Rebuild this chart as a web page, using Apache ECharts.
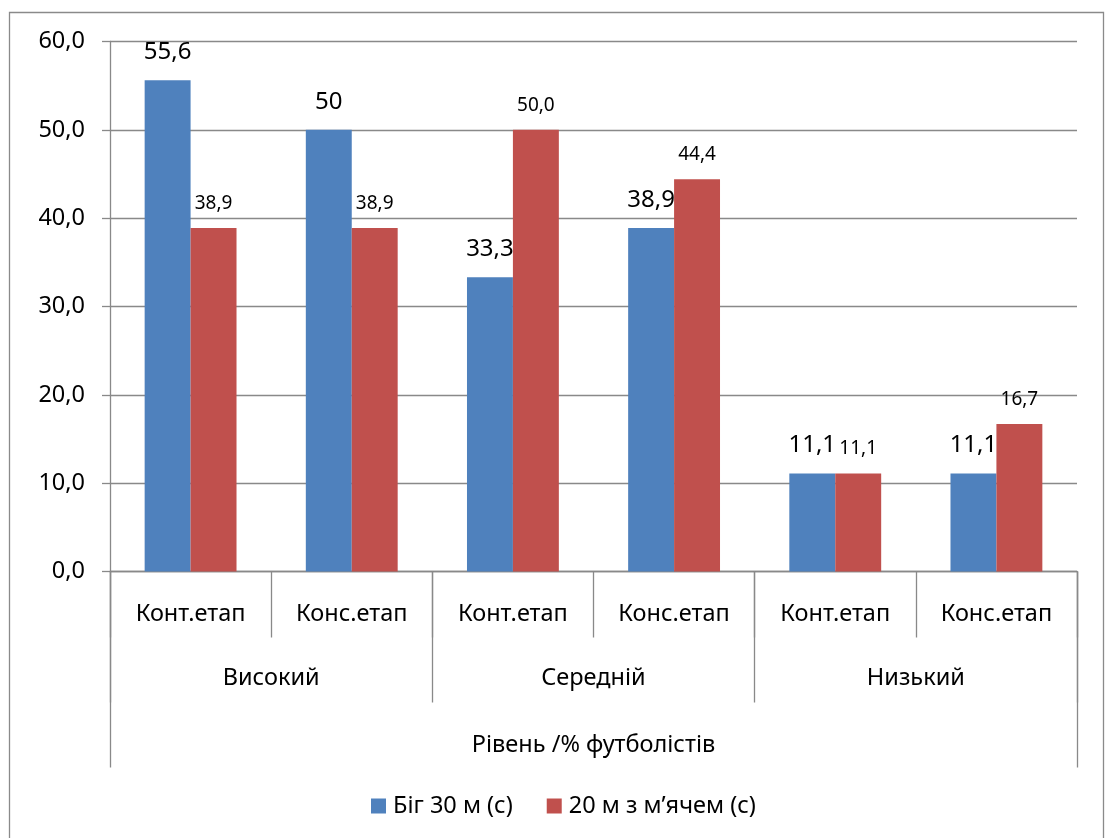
<!DOCTYPE html>
<html>
<head>
<meta charset="utf-8">
<script src="https://cdn.jsdelivr.net/npm/echarts@6/dist/echarts.min.js"></script>
<style>
  html, body { margin: 0; padding: 0; background: #fff; }
  #chart { width: 1108px; height: 838px; }
</style>
</head>
<body>
<div id="chart"></div>
<script>
// Stage labels (first row under the axis)
const stages = ['Конт.етап', 'Конс.етап', 'Конт.етап', 'Конс.етап', 'Конт.етап', 'Конс.етап'];
// Level groups (second row)
const levels = ['Високий', 'Середній', 'Низький'];
// Axis title row (third row)
const axisTitle = ['Рівень /% футболістів'];
// Series
const seriesNames = ['Біг 30 м (с)', '20 м з м’ячем (с)'];
const run30 = [55.6, 50, 33.3, 38.9, 11.1, 11.1];
const ball20 = [38.9, 38.9, 50.0, 44.4, 11.1, 16.7];
// Value axis ticks
const yMin = 0, yMax = 60, yStep = 10;

const FONT = '"Noto Sans", "Open Sans", sans-serif';
const AXIS_GRAY = '#898989';
const BLUE = '#4F81BD';
const RED = '#C0504D';
const TEXT_SIZE = 23.5;

const comma = s => String(s).replace('.', ',');

const chart = echarts.init(document.getElementById('chart'), null, { renderer: 'canvas' });

function catAxis(data, tickLen, labelMargin, showLine) {
  return {
    type: 'category',
    data: data,
    position: 'bottom',
    boundaryGap: true,
    axisLine: { show: showLine, lineStyle: { color: AXIS_GRAY, width: 1.3 } },
    axisTick: { show: true, interval: 0, length: tickLen, lineStyle: { color: AXIS_GRAY, width: 1.3 } },
    axisLabel: {
      interval: 0, margin: labelMargin, verticalAlign: 'middle',
      color: '#000', fontFamily: FONT, fontSize: TEXT_SIZE
    },
    splitLine: { show: false }
  };
}

chart.setOption({
  animation: false,
  backgroundColor: '#fff',
  graphic: [{
    type: 'rect',
    shape: { x: 9.5, y: 12.5, width: 1094, height: 840 },
    style: { fill: 'none', stroke: '#8a8a8a', lineWidth: 1.3 },
    silent: true, z: -10
  }],
  grid: { left: 110, right: 31, top: 41.5, bottom: 266.5, containLabel: false },
  legend: {
    data: seriesNames,
    top: 794,
    left: 371,
    padding: 0,
    icon: 'rect',
    itemWidth: 15,
    itemHeight: 15,
    itemGap: 34,
    textStyle: { color: '#000', fontFamily: FONT, fontSize: TEXT_SIZE, padding: [0, 0, 0, 2] }
  },
  xAxis: [
    catAxis(stages, 66, 42.5, true),
    catAxis(levels, 131, 106.5, false),
    catAxis(axisTitle, 196, 173.5, false)
  ],
  yAxis: {
    type: 'value',
    min: yMin, max: yMax, interval: yStep,
    axisLine: { show: true, lineStyle: { color: AXIS_GRAY, width: 1.3 } },
    axisTick: { show: true, length: 8, lineStyle: { color: AXIS_GRAY, width: 1.3 } },
    axisLabel: {
      margin: 25, color: '#000', fontFamily: FONT, fontSize: TEXT_SIZE,
      formatter: v => v.toFixed(1).replace('.', ',')
    },
    splitLine: { show: true, lineStyle: { color: AXIS_GRAY, width: 1.3 } }
  },
  series: [
    {
      name: seriesNames[0],
      type: 'bar',
      xAxisIndex: 0,
      data: run30,
      barGap: '0%',
      barCategoryGap: '43%',
      itemStyle: { color: BLUE },
      label: {
        show: true, position: 'top', distance: 16,
        color: '#000', fontFamily: FONT, fontSize: 24, lineHeight: 24,
        formatter: p => comma(p.value)
      }
    },
    {
      name: seriesNames[1],
      type: 'bar',
      xAxisIndex: 0,
      data: ball20,
      barGap: '0%',
      barCategoryGap: '43%',
      itemStyle: { color: RED },
      label: {
        show: true, position: 'top', distance: 15,
        color: '#000', fontFamily: FONT, fontSize: 19, lineHeight: 19,
        formatter: p => p.value.toFixed(1).replace('.', ',')
      }
    }
  ]
});
</script>
</body>
</html>
